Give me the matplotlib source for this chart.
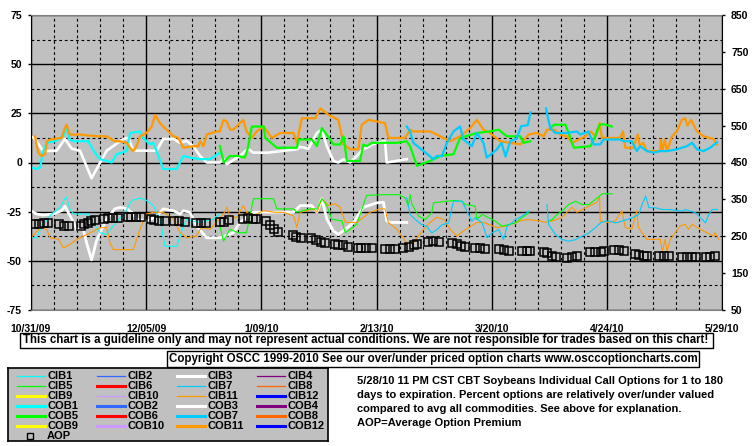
import matplotlib
matplotlib.use("Agg")
import matplotlib.pyplot as plt
from matplotlib.patches import Rectangle
from matplotlib.lines import Line2D

W, H = 755, 446
plt.rcParams['font.family'] = ['Liberation Sans', 'DejaVu Sans']
plt.rcParams['font.weight'] = 'bold'
nan = float('nan')

# x = days since 10/31/09
date_labels = ["10/31/09", "12/05/09", "1/09/10", "2/13/10", "3/20/10", "4/24/10", "5/29/10"]
left_ticks = [-75, -50, -25, 0, 25, 50, 75]
right_ticks = [50, 150, 250, 350, 450, 550, 650, 750, 850]

# upper band (over/under %, left axis)
cob3_days = [0, 1.2, 3.7, 7.8, 10.3, 12.4, 14.9, 18.4, 23, 28.1, 29.6, 31.1, 38.2, 40.2, 43.3, 45.3, 47.3,
             49.3, 51.4, 53.4, 57.4, 58.5, 59.5, 63.5, 66, 67.5, 72, 76, 80.8, 81.8, 84.3, 86.9, 88.4, 89.9,
             91.9, 93.4, 95, 97, 99, 101, 105, 107.6, 108.1, 114.2]
cob3_vals = [13.3, 12, 5.8, 6, 12, 7, 6, -8, 6, 12, 12.5, 6, 6, 12, 12, 10, 11,
             8.3, 3.3, 0, 0, 1.7, -0.8, 3.3, 7, 5, 5, 5.8, 6.7, 8, 7, 15, 16.7, 8.3,
             0.8, 0, 1.7, 0, 3.3, 6.7, 10, 10.8, 0, 1.7]

cob1_days = [0, 1.7, 2.8, 3.7, 4.8, 7.3, 9.8, 10.8, 11.8, 12.9, 17.4, 19.4, 21, 23, 24.5, 26, 29.1, 30.1,
             33.1, 34.1, 36.2, 37.2, 40.2, 44.3, 46.3, 48.3, 51.4, 54.4, 57.4]
cob1_vals = [-2.5, -3.3, -2.5, 5.8, 10, 10.8, 13.3, 17.5, 11.7, 10.8, 10.8, 5, 1.7, 0.8, 0, 4.2, 5.8, 15,
             15.8, 12.5, 9.2, 10, -3.3, -3.3, 3.3, 2.5, 1.7, 1.7, 5]

cob11_days = [1.2, 2.2, 3.2, 4.3, 4.8, 5.8, 9.3, 10.3, 10.8, 11.8, 15.4, 16.9, 21, 23, 24.5, 25.5, 27.1,
              29.1, 30.1, 31.1, 32.1, 33.1, 35.1, 36.7, 37.7, 39.2, 40.2, 43.3, 44.8, 46.3, 49.3, 50.9,
              51.4, 52.4, 53.4, 56.4, 57.4, 58.5, 59.5, 60.5, 61.5, 63.5, 64.5, 65.5, 67.1, 68.6, 70.7,
              73.2, 75.7, 79.8, 80.8, 82.3, 86.4, 87.9, 90.4, 93.4, 95, 97, 99.5, 100.5, 102.6, 107.6,
              108.6, 113.7, 115.2, 116.2, 121.3, 123.3, 127.4, 130.4, 133.5, 135.5, 137.5, 139.5, 142.6,
              145.6, 148.7, 151.2, 153.7, 155.8, 156.8, 159, 161, 162.9, 164.4, 166.5, 168.5, 170, 171.5,
              172.8, 173.5, 179, 179.9, 180.6, 183, 184.4, 185, 186, 187.2, 191.2, 191.4, 191.9, 192.6,
              193.3, 194.8, 196.3, 197.8, 198.8, 199.5, 200.6, 202.4, 204.4, 207.4, 208.5]
cob11_vals = [13.3, 5, 3.3, 4.2, 10.8, 11.7, 12.5, 17.5, 19.2, 14.2, 14.2, 13.8, 13.3, 13.3, 11.7, 10.8, 10.8,
              10, 7.5, 5.8, 8.3, 13.3, 15, 18.3, 24.2, 20, 18.3, 13.3, 12.5, 7.5, 8.3, 8.3,
              10.8, 8.3, 14.2, 15.8, 15.8, 21.7, 20.8, 16.7, 16.7, 20, 21.7, 15.8, 12.5, 15.8, 18.3,
              12.5, 15, 15, 10, 22.5, 22.5, 27.5, 24.2, 21.7, 9.2, 6.7, 6.7, 19.2, 21.7, 20,
              12.5, 12.5, 16.7, 15.8, 15.8, 14.2, 10.8, 13.3, 17.5, 21.7, 16.7, 15, 10.8,
              10, 9.2, 14.2, 15, 13.3, 16.7, 16.7, 14, 13.3, 10, 11.7, 13.3, 15.8, 13.5,
              20, 12.5, 12.5, 15.8, 7.5, 7.5, 14.2, 8.3, 10, 5.8, 5.8, 11.7, 5.8, 11.7,
              5.8, 13.3, 15.8, 21.7, 22.5, 18.7, 21.7, 15.8, 13.3, 12, 9.2]

cob5_days = [57.4, 58.6, 60.4, 63, 65, 66, 67.1, 70.7, 71.2, 74.7, 80.8, 81.3, 85.3, 86.9, 88.4, 90.9, 91.9,
             94, 95, 96, 100, 101, 102, 103.6, 111.2, 114.2, 115.2, 117.3, 121.3, 124.4, 128.4, 130.4,
             135.5, 139.5, 142.1, 144.6, 148.7, 149.7, 151.7, 154,
             157.8, 159, 162.4, 163.4, 164.4, 165, 170, 171.5, 172.8, 174, 176.5]
cob5_vals = [8.3, 0, 3.3, 3.3, 2.5, 8, 18.3, 18.3, 12.5, 7.5, 7.5, 11.7, 11.7, 8.3, 17.5, 11.7, 9.2,
             9.2, 13.3, 0.8, 0.8, 9.2, 8.3, 10, 10, 10.8, 8.3, -1.7, 0.8, 3.3, 4.2, 12.5,
             15, 15.8, 16.7, 13.3, 13.3, 10, 10.8, nan,
             17.5, 19.2, 19.2, 15, 10, 7.5, 8.3, 13.3, 19.2, 19.5, 18.3]

cob7_days = [114.2, 115.2, 116.2, 119.3, 122.3, 123.3, 124.9, 126.4, 128.4, 130.4, 131.4, 134, 135.5, 137.5,
             138.5, 141.5, 143, 144.2, 145.7, 147.5, 149, 151, 151.8, 154,
             156.5, 157.8, 159.3, 162.9, 165.9, 166.9, 169.4, 171, 173, 174, 179, 180.1, 182.6, 184.1,
             185.1, 187.2, 189.2, 191.2, 193.3, 196.3, 199.3, 200.9, 202.4, 204.4, 206.4, 208.5]
cob7_vals = [18.3, 15.8, 10, 5.8, 1.7, 3.3, 3.3, 10, 15.8, 18.3, 11.7, 8.3, 15, 10,
             2.5, 6.5, 10, 3, 11, 12, 18.5, 19, 25.5, nan,
             27.5, 17.5, 15, 15, 15.8, 14.2, 15.8, 9.2, 9.2, 11.7, 11.7, 10.8, 10.8, 5.8,
             8.3, 5.8, 5, 5.8, 5.8, 6.7, 8.3, 10, 6.7, 5.8, 7.5, 10.3]

# lower band (left axis scale)
cib1_days = [0, 1.7, 2.8, 5.8, 8.8, 10.3, 10.8, 11.8, 12.9, 17.4, 18.9, 21, 23, 25, 28.6, 30.6, 33.1, 35.1,
             37.2, 39.2, 40.7, 44.3, 45.8, 47.3, 48.8, 51.4, 55.4, 57.4]
cib1_vals = [-38.3, -38.3, -34, -27, -22.8, -18.4, -17.6, -23.6, -26.2, -26.2, -30.5, -35.7, -36.6, -32.2,
             -25.3, -19.3, -18.1, -19.3, -22, -28.8, -42.6, -42.6, -34.8, -28.8, -29.7, -30.5, -28.8, -26.2]

cib3_days = [0, 1.7, 3.7, 6.8, 9.3, 10.3, 11.3, 12.4, 13.9, 15.9, 16.9, 18.4, 19.9, 21, 23, 25.5, 27.1, 29.1,
             30.6, 32.1, 35.1, 38.2, 40.2, 43.3, 45.3, 46.3, 48.3, 50.3, 53.4, 57.4, 61.5, 63.5, 67.6, 79.8,
             81.8, 85.3, 86.9, 88.4, 89.9, 91.9, 93.4, 95.5, 98, 101, 105.1, 107.1, 108.1, 109.2, 114.2]
cib3_vals = [-24.5, -26.2, -26.7, -26.2, -24.5, -22.2, -25.3, -28.8, -34, -34, -40.9, -49.5, -40, -35.7, -28.8,
             -23.6, -22.8, -23.6, -25.3, -28.8, -29.7, -27.4, -23.6, -24.5, -26.2, -24.5, -25.3, -32.2, -38.3,
             -38.3, -35.7, -30.5, -25.3, -25.3, -21.9, -21.9, -25.3, -18.4, -28.8, -34.8, -36.6, -34, -30.5,
             -22.8, -20.5, -20.2, -29.7, -30.5, -30.5]

cib11_days = [0, 2.8, 4.8, 5.8, 8.4, 9.8, 11.8, 13.9, 17, 21, 23, 24, 25, 31.1, 33.1, 35.1, 37.2, 40.2, 43.3,
              45.3, 47.3, 50.3, 51.4, 52.4, 54.4, 58.5, 59.5, 60.5, 62.5, 64.5, 65.5, 67.6, 70.7, 74.2,
              76.7, 79.8, 80.8, 81.8, 85.9, 86.9, 88.4, 90.4, 92.4, 94, 95.5, 99, 101, 103, 106.1, 107.6,
              108.6, 111.2, 114.2, 116.2, 119.3, 121.3, 123.3, 125.4, 127.4, 129.4, 131.4, 135.5, 137.5,
              141.6, 144.6, 148.7, 150.7, 154.8, 156.3, 159.8, 161.9, 162.9, 164.4, 165.9, 170, 172, 172.8,
              173, 175.5, 177.6, 179.6, 180.6, 182.6, 184.1, 184.6, 187.2, 191.2, 191.9, 192.7, 193.3,
              194.3, 195.8, 197.3, 198.8, 199.8, 200.9, 203.4, 205.4, 207.4, 207.9, 209]
cib11_vals = [-38.3, -33.1, -34, -38.3, -39.1, -43.4, -41.7, -39.1, -36.6, -33.1, -33.1, -40.9, -44.3, -44.3,
              -34, -26.2, -25.3, -25.3, -28.8, -35.7, -38.3, -37.4, -34, -33.1, -34, -26.2, -22.8, -27.1,
              -28, -21.9, -25.3, -27.1, -24.5, -25.3, -25.3, -27.1, -33.1, -25.3, -23.6, -25.3, -18.4,
              -21.9, -21, -22.8, -30.5, -30.5, -27.9, -25.3, -23.6, -23.6, -30.5, -34, -40.9, -40.9, -34,
              -30.5, -27.9, -28.8, -34, -37.4, -34.8, -30.5, -30.5, -33.1, -32.2, -29.7, -29, -29.7,
              -30.5, -29, -27.2, -25.3, -22.8, -25.3, -21.9, -20.2, -17.6, -29.7, -30.5, -29.7, -24.5,
              -33.1, -34, -24.5, -33.1, -39.1, -39.1, -45.2, -39.1, -45.2, -39.1, -35.7, -32.2, -31.4,
              -34, -31.4, -34, -35.7, -37.4, -35.7, -39.1]

cib5_days = [57.4, 58.5, 60.4, 63, 65.5, 67.6, 73.7, 74.7, 79.8, 80.8, 84.8, 86.9, 88.4, 89.9, 91.4, 94.5,
             95.5, 97, 99, 102, 107.1, 111.7, 113.7, 114.7, 115.2, 115.8, 117.8, 119.8, 121.8, 122.3,
             125.9, 128.9, 131, 132, 135, 135.5, 137.1, 139.1, 141.1, 143.1, 147.2, 149.2, 151.3, 154,
             157.3, 158.4, 159.9, 161.4, 163.4, 165.5, 167.5, 169.5, 171.5, 173.6, 176.6]
cib5_vals = [-32.2, -40, -34, -35.7, -35.7, -18.4, -18.4, -23.6, -23.6, -25.3, -23.6, -23.6, -18.4, -21.9,
             -28.8, -29.7, -35.7, -34, -31.4, -16.7, -16.4, -16.3, -18, -22.2, -16.3, -21.4, -27.3, -29,
             -25.6, -20.5, -19.8, -19.3, -19.8, -21.4, -22.2, -29, -26.4, -28.1, -29.8, -32.4, -30.7,
             -28.1, -25.6, nan,
             -29.8, -29, -26.4, -24.7, -21.4, -19.7, -21.4, -21.4, -18.8, -15.9, -15.9]

cib7_days = [114.2, 115.2, 116.8, 118.8, 120.3, 121.8, 123.4, 124.9, 126.9, 128.4, 131, 134, 135, 137.1,
             138.6, 140.1, 142.1, 143.6, 144.7, 146.2, 147.2, 149.2, 151.3, 154,
             156.8, 157.3, 159.4, 161.4, 163.4, 165.5, 169.5, 171.5, 173.1, 174.6, 175.6, 177.6, 179.7,
             182.7, 184.7, 185.7, 186.8, 187.8, 189.8, 191.8, 193.8, 197.9, 198.9, 202, 203.5, 205, 206,
             207, 208.6]
cib7_vals = [-18, -26.4, -29, -31.7, -32.5, -35.8, -34.1, -31.7, -30.8, -19.7, -19.7, -29.8, -28.1, -30.7,
             -38.3, -35.8, -34.1, -39.2, -32.4, -30.7, -29, -27.3, -24.7, nan,
             -21.4, -31.5, -36.6, -39.2, -40, -39.2, -35.8, -33.2, -30.7, -29.8, -29.8, -30.7, -29.8,
             -28.1, -26.4, -21.4, -17.1, -23, -23, -23.9, -23.9, -24.7, -23.9, -25.6, -28.1, -30.7, -26.4,
             -23.9, -23.9]

# average option premium (right axis)
aop_days = [1.0, 2.5, 4.1, 5.1, 8.6, 10.1, 11.7, 15.2, 16.2, 17.2, 18.3, 19.3, 22.3, 23.3, 24.9, 26.4,
            29.4, 30.4, 32, 33.5, 36.5, 37.5, 39, 40.6, 43.6, 45.1, 46.7, 50.2, 51.7, 53.3, 57.3, 58.8,
            60.3, 64.4, 65.9, 67.4, 68.5, 71.5, 72.5, 74.0, 75.1, 79.6, 80.6, 82.2, 85.2, 86.7, 88.2,
            89.3, 92.3, 93.3, 94.8, 96.4, 99.4, 100.4, 101.9, 103.5, 107.6, 109.2, 110.7, 113.2, 114.8,
            116.3, 117.3, 120.8, 122.3, 123.9, 127.9, 129.5, 130.8, 131.8, 135, 136.6, 138.1, 142.1,
            143.6, 145.2, 149.2, 150.7, 151.8, 155.8, 156.8, 158.4, 159.4, 162.9, 164.4, 166, 170,
            171.5, 173.1, 174.1, 177.1, 178.6, 180.2, 183.7, 184.7, 186.2, 187.3, 190.8, 192.3, 193.8,
            197.9, 199.4, 200.9, 202, 205, 206.5, 208]
aop_vals = [283, 283, 285, 285, 283, 279, 279, 279, 282, 287, 291, 294, 297, 299, 300, 300,
            303, 303, 303, 303, 296, 294, 291, 291, 291, 291, 289, 287, 287, 285, 288, 290,
            294, 298, 300, 298, 297, 291, 280, 271, 262, 253, 249, 246, 244, 240, 235,
            233, 228, 226, 226, 222, 219, 217, 217, 217, 215, 215, 215, 217, 222,
            226, 228, 235, 237, 235, 232, 228, 223, 222, 217, 217, 215, 215,
            214, 210, 211, 211, 211, 208, 204, 197, 193, 190, 193, 196, 206,
            208, 208, 211, 213, 213, 211, 201, 199, 197, 197, 197, 197, 197,
            195, 195, 195, 195, 195, 195, 196]

legend_names = ["CIB1", "CIB2", "CIB3", "CIB4", "CIB5", "CIB6", "CIB7", "CIB8",
                "CIB9", "CIB10", "CIB11", "CIB12", "COB1", "COB2", "COB3", "COB4",
                "COB5", "COB6", "COB7", "COB8", "COB9", "COB10", "COB11", "COB12"]
palette = ["#00FFFF", "#3366FF", "#FFFFFF", "#800080", "#00FF00", "#FF0000",
           "#00CCFF", "#FF6600", "#FFFF00", "#CC99FF", "#FF9900", "#0000FF"]
legend_thick = [False, False, True, False, False, True, False, False, True, False, False, True] + [True] * 12

note_lines = ["5/28/10 11 PM CST CBT Soybeans Individual Call Options for 1 to 180",
              "days to expiration. Percent options are relatively over/under valued",
              "compared to avg all commodities. See above for explanation.",
              "AOP=Average Option Premium"]
disclaimer = ("This chart is a guideline only and may not represent actual conditions. "
              "We are not responsible for trades based on this chart!")
copyright_txt = "Copyright OSCC 1999-2010 See our over/under priced option charts www.osccoptioncharts.com"


def fx(x):
    return x / W


def fy(y):
    return 1 - y / H


fig = plt.figure(figsize=(W / 100, H / 100), dpi=100)
fig.patch.set_facecolor("white")

ax = fig.add_axes([fx(31), fy(310), (722 - 31) / W, (310 - 15) / H])
ax.set_facecolor("#C0C0C0")
ax.set_xlim(0, 210)
ax.set_ylim(-75, 75)

ax.set_xticks([0, 35, 70, 105, 140, 175, 210])
ax.set_xticks([d for d in range(7, 210, 7) if d % 35], minor=True)
ax.set_xticklabels(date_labels, fontsize=7.5, fontweight="bold")
ax.set_yticks(left_ticks)
ax.set_yticks([-62.5, -37.5, -12.5, 12.5, 37.5, 62.5], minor=True)
ax.set_yticklabels([str(t) for t in left_ticks], fontsize=7.5, fontweight="bold")
ax.tick_params(axis="x", which="both", length=0, pad=10)
ax.tick_params(axis="y", which="major", length=2.5, width=1, pad=4, direction="out")
ax.tick_params(axis="y", which="minor", length=0)
ax.grid(True, which="major", color="black", linewidth=1, linestyle="-")
ax.grid(True, which="minor", color="black", linewidth=0.8, linestyle=(0, (2.5, 2.5)))
ax.set_axisbelow(True)
for side in ["top", "bottom"]:
    ax.spines[side].set_color("#808080")
ax.spines["left"].set_color("black")
ax.spines["right"].set_color("black")

thin, thick = 0.8, 1.6
ax.plot(cib3_days, cib3_vals, color="#FFFFFF", lw=2.0)
ax.plot(cib1_days, cib1_vals, color="#00FFFF", lw=thin)
ax.plot(cib11_days, cib11_vals, color="#FF9900", lw=thin)
ax.plot(cib5_days, cib5_vals, color="#00FF00", lw=thin)
ax.plot(cib7_days, cib7_vals, color="#00CCFF", lw=thin)

ax.plot(cob3_days, cob3_vals, color="#FFFFFF", lw=thick + 0.3)
ax.plot(cob1_days, cob1_vals, color="#00FFFF", lw=thick)
ax.plot(cob11_days, cob11_vals, color="#FF9900", lw=thick)
ax.plot(cob5_days, cob5_vals, color="#00FF00", lw=thick)
ax.plot(cob7_days, cob7_vals, color="#00CCFF", lw=thick)

ax2 = ax.twinx()
ax2.set_ylim(50, 850)
ax2.set_yticks(right_ticks)
ax2.set_yticklabels([str(t) for t in right_ticks], fontsize=7.5, fontweight="bold")
ax2.tick_params(axis="y", length=2.5, width=1, pad=4)
for s in ax2.spines.values():
    s.set_visible(False)
ax2.plot(aop_days, aop_vals, linestyle="none", marker="s", markersize=5.6,
         markerfacecolor="none", markeredgecolor="black", markeredgewidth=1.1)

# disclaimer and copyright boxes
fig.add_artist(Rectangle((fx(20), fy(348)), (713 - 20) / W, 15 / H, transform=fig.transFigure,
                         facecolor="white", edgecolor="black", lw=1))
fig.text(fx(366), fy(340.5), disclaimer, ha="center", va="center", fontsize=8.3, fontweight="bold")
fig.add_artist(Rectangle((fx(167), fy(367)), (699 - 167) / W, 16 / H, transform=fig.transFigure,
                         facecolor="white", edgecolor="black", lw=1))
fig.text(fx(433), fy(359), copyright_txt, ha="center", va="center", fontsize=8.3, fontweight="bold")

# legend box
lax = fig.add_axes([fx(8), fy(441), 320 / W, 73 / H])
lax.set_facecolor("#C0C0C0")
lax.set_xlim(0, 320)
lax.set_ylim(73, 0)
lax.set_xticks([])
lax.set_yticks([])
for s in lax.spines.values():
    s.set_color("black")
    s.set_linewidth(1.2)
for i, name in enumerate(legend_names):
    row, col = divmod(i, 4)
    x0 = 9 + col * 80
    y0 = 8 + row * 10
    lax.add_line(Line2D([x0, x0 + 28], [y0, y0], color=palette[i % 12],
                        lw=2.2 if legend_thick[i] else 0.9))
    lax.text(x0 + 30, y0, name, ha="left", va="center", fontsize=8, fontweight="bold")
lax.plot([22], [68], marker="s", markersize=5, markerfacecolor="none",
         markeredgecolor="black", markeredgewidth=1)
lax.text(39, 68, "AOP", ha="left", va="center", fontsize=8, fontweight="bold")

for k, line in enumerate(note_lines):
    fig.text(fx(357), fy(381 + 14 * k), line, ha="left", va="center", fontsize=8.0, fontweight="bold")

fig.savefig("out.png", dpi=100)
